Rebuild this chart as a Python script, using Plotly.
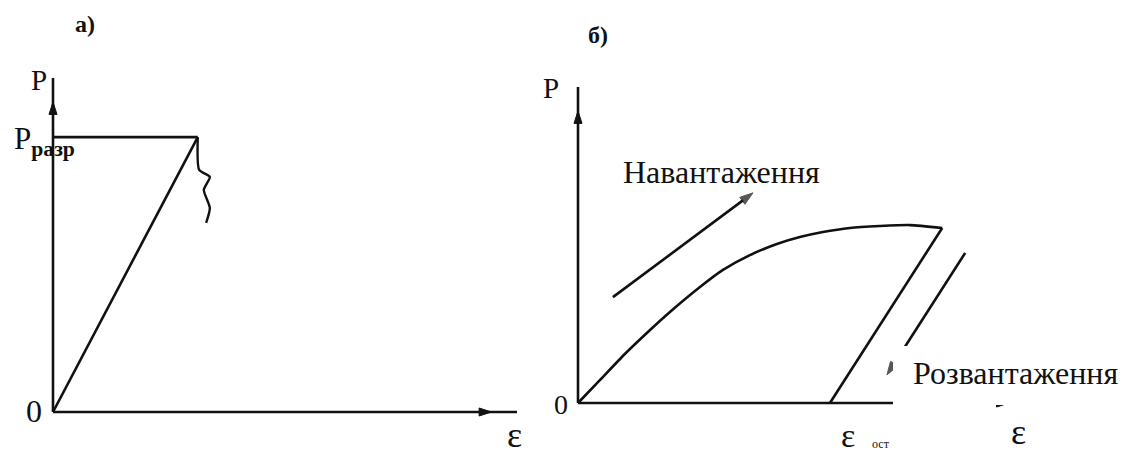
import plotly.graph_objects as go

W, H = 1125, 454

# ---- Panel а): brittle material, linear up to rupture ----
eps_a = [0.0, 3.12]
load_a = [0.0, 8.23]
p_rupt = 8.23
crack_eps = [3.12, 3.15, 3.38, 3.25, 3.38, 3.30]
crack_load = [8.23, 7.25, 7.04, 6.65, 6.11, 5.66]

# ---- Panel б): loading curve and elastic unloading ----
eps_load = [0.0, 0.50, 1.06, 1.63, 2.08, 2.76, 3.28, 3.89, 4.50, 5.02, 5.54, 6.15, 6.83, 7.51, 8.24]
load_b = [0.0, 0.73, 1.55, 2.31, 2.88, 3.67, 4.21, 4.68, 5.03, 5.25, 5.41, 5.54, 5.60, 5.63, 5.54]
eps_res = 5.70
arrow_load_eps = [0.79, 3.96]
arrow_load_p = [3.35, 6.65]
arrow_unload_eps = [8.76, 6.99]
arrow_unload_p = [4.75, 0.89]

axis_len = 10.0
RANGE = [-0.6, 10.4]

# pixel frames of each panel: origin and the end of each axis
frames = {
    "a": dict(x0=53, x10=517, y0=412, y10=78),
    "b": dict(x0=578, x10=1020, y0=403, y10=87),
}


def domains(f):
    sx = (f["x10"] - f["x0"]) / axis_len
    sy = (f["y0"] - f["y10"]) / axis_len
    xd = [(f["x0"] + RANGE[0] * sx) / W, (f["x0"] + RANGE[1] * sx) / W]
    yd = [1 - (f["y0"] - RANGE[0] * sy) / H, 1 - (f["y0"] - RANGE[1] * sy) / H]
    return xd, yd


INK = "#111111"
LW = 2.6
SERIF = "Liberation Serif, Times New Roman, serif"

fig = go.Figure()


def line(x, y, xa, ya, width=LW, shape="linear"):
    fig.add_trace(go.Scatter(x=x, y=y, xaxis=xa, yaxis=ya, mode="lines",
                             line=dict(color=INK, width=width, shape=shape, smoothing=0.6),
                             hoverinfo="skip", showlegend=False))


def head(x, y, xa, ya, angle, size=13):
    fig.add_trace(go.Scatter(x=[x], y=[y], xaxis=xa, yaxis=ya, mode="markers",
                             marker=dict(symbol="arrow", angle=angle, size=size, color=INK,
                                         line=dict(width=1, color=INK)),
                             cliponaxis=False, hoverinfo="skip", showlegend=False))


def arrow(x, y, xa, ya, size=14):
    fig.add_trace(go.Scatter(x=x, y=y, xaxis=xa, yaxis=ya, mode="lines+markers",
                             line=dict(color=INK, width=LW),
                             marker=dict(symbol="arrow", angleref="previous",
                                         size=[0] * (len(x) - 1) + [size], color=INK,
                                         line=dict(width=1, color=INK)),
                             cliponaxis=False, hoverinfo="skip", showlegend=False))


# axes of panel а)
line([0, axis_len], [0, 0], "x", "y")
line([0, 0], [0, axis_len], "x", "y")
head(9.45, 0, "x", "y", 90)
head(0, 9.28, "x", "y", 0)

# panel а) curves
line(eps_a, load_a, "x", "y")
line([0, eps_a[-1]], [p_rupt, p_rupt], "x", "y")
line(crack_eps, crack_load, "x", "y", width=2.4, shape="spline")

# axes of panel б)
line([0, axis_len], [0, 0], "x2", "y2")
line([0, 0], [0, axis_len], "x2", "y2")
head(9.75, 0, "x2", "y2", 90)
head(0, 9.24, "x2", "y2", 0)

# panel б) curves
line(eps_load, load_b, "x2", "y2", shape="spline")
line([eps_load[-1], eps_res], [load_b[-1], 0], "x2", "y2")
arrow(arrow_load_eps, arrow_load_p, "x2", "y2")
arrow(arrow_unload_eps, arrow_unload_p, "x2", "y2")

xa, ya = domains(frames["a"])
xb, yb = domains(frames["b"])
ax_common = dict(range=RANGE, visible=False, fixedrange=True)

fig.update_layout(
    width=W, height=H,
    margin=dict(l=0, r=0, t=0, b=0),
    paper_bgcolor="white", plot_bgcolor="rgba(0,0,0,0)",
    xaxis=dict(domain=xa, anchor="y", **ax_common),
    yaxis=dict(domain=ya, anchor="x", **ax_common),
    xaxis2=dict(domain=xb, anchor="y2", **ax_common),
    yaxis2=dict(domain=yb, anchor="x2", **ax_common),
    showlegend=False,
)

# white patch behind the unloading caption
fig.add_shape(type="rect", xref="paper", yref="paper",
              x0=893 / W, x1=1.0, y0=1 - 405 / H, y1=1 - 346 / H,
              fillcolor="white", line=dict(width=0), layer="above")


def label(text, x, y, size, bold=False, xanchor="center", yanchor="middle"):
    if bold:
        text = "<b>" + text + "</b>"
    fig.add_annotation(text=text, x=x / W, y=1 - y / H, xref="paper", yref="paper",
                       showarrow=False, xanchor=xanchor, yanchor=yanchor,
                       font=dict(family=SERIF, size=size, color=INK))


# panel titles
label("а)", 85, 24, 24, bold=True)
label("б)", 598, 35, 24, bold=True)

# panel а) labels
label("P", 39, 80, 29)
label("P<sub><b>разр</b></sub>", 12, 141, 31, xanchor="left")
label("0", 34, 411, 32)
label("ε", 514, 435, 36)

# panel б) labels
label("P", 551, 88, 29)
label("0", 561, 404, 28)
label("ε", 1018, 432, 36)
label("ε", 848, 435, 34)
label("ост", 870, 444, 12, xanchor="left")
label("Навантаження", 721, 172, 32)
label("Розвантаження", 1015, 373, 32)

fig.write_html("out.html")
